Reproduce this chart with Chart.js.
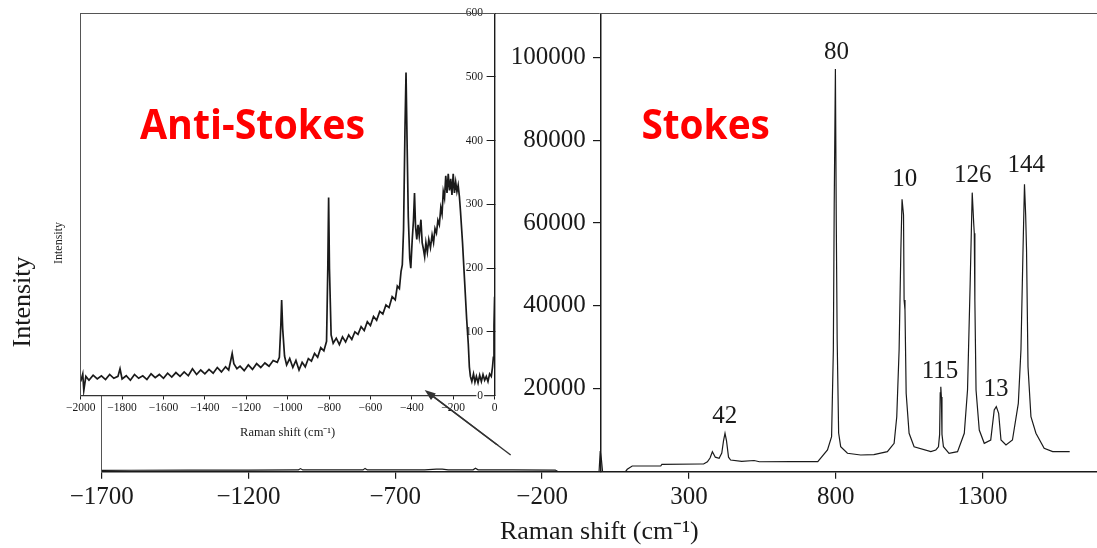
<!DOCTYPE html>
<html><head><meta charset="utf-8">
<script src="https://cdn.jsdelivr.net/npm/chart.js@4.4.1/dist/chart.umd.min.js"></script>
<style>
html,body{margin:0;padding:0;background:#fff;overflow:hidden;width:1097px;height:548px;}
#main{position:absolute;left:0;top:0;}
#inset{position:absolute;left:50px;top:0;}
</style></head><body>
<canvas id="main" width="1097" height="548"></canvas>
<canvas id="inset" width="451" height="445"></canvas>
<script>
// ---------------- data ----------------
// main spectrum (Raman shift cm-1 vs intensity)
const mainShift = [-1700,-1600,-1400,-1200,-1030,-1023,-1015,-810,-803,-795,
  -600,-560,-540,-520,-435,-427,-418,-300,-155,-145,
  -6,-2,2,6,84,90,107,204,208,340,
  350,363,372,380,390,403,412,418,423,428,
  435,442,480,522,540,650,739,772,786,792,
  795,799,802,805,810,817,840,885,930,976,
  999,1008,1016,1022,1026,1031,1033,1036,1040,1050,
  1067,1124,1141,1150,1154,1156,1158,1160,1162,1167,
  1186,1215,1238,1249,1258,1265,1270,1272,1274,1278,
  1289,1306,1328,1340,1347,1355,1363,1380,1402,1422,
  1431,1438,1443,1447,1450,1455,1465,1482,1510,1539,
  1597];
const mainIntensity = [300,350,380,400,420,750,420,420,800,420,
  430,600,600,450,450,850,450,420,400,0,
  0,5000,3000,0,0,580,1370,1370,1780,1860,
  1860,2400,3300,4830,3500,3230,4500,7500,9270,7500,
  3500,2820,2500,2700,2400,2450,2413,5240,8450,29440,
  65000,97170,60000,31850,9340,6030,4440,4030,4100,4830,
  6850,13270,29440,53540,65730,61940,41430,39020,18920,9270,
  6030,4830,5240,6000,9000,19000,20510,18000,9000,6030,
  4440,4830,9270,19700,45460,67330,60000,57530,41430,19700,
  10060,6850,7650,14890,15690,14090,7650,6440,7650,16500,
  29440,53500,69350,62000,53500,25340,13270,9270,5650,4830,
  4830];
// inset anti-Stokes spectrum
const insetShift = [-2000,-1990,-1985,-1975,-1960,-1940,-1920,-1900,-1880,-1860,
  -1840,-1820,-1810,-1800,-1780,-1760,-1740,-1720,-1700,-1680,
  -1660,-1640,-1620,-1600,-1580,-1560,-1540,-1520,-1500,-1480,
  -1460,-1440,-1420,-1400,-1380,-1360,-1340,-1320,-1300,-1285,
  -1275,-1268,-1260,-1245,-1230,-1210,-1190,-1170,-1150,-1130,
  -1110,-1090,-1070,-1050,-1040,-1033,-1029,-1024,-1015,-1005,
  -990,-975,-960,-945,-930,-915,-900,-885,-870,-855,
  -840,-825,-812,-806,-802,-798,-790,-780,-765,-750,
  -735,-720,-705,-690,-675,-660,-645,-630,-615,-600,
  -585,-570,-555,-540,-525,-510,-495,-480,-470,-460,
  -452,-446,-440,-433,-428,-423,-417,-410,-405,-398,
  -392,-387,-382,-376,-370,-364,-356,-350,-344,-338,
  -332,-325,-318,-310,-302,-295,-288,-281,-274,-267,
  -260,-254,-248,-242,-236,-230,-224,-218,-212,-206,
  -200,-194,-188,-182,-176,-170,-165,-155,-145,-135,
  -127,-122,-117,-110,-102,-95,-88,-80,-72,-64,
  -56,-48,-40,-32,-24,-16,-10,-6,-3,0];
const insetIntensity = [22,34,8,30,24,32,26,31,25,33,
  27,30,42,26,31,24,33,27,31,25,
  34,28,33,27,35,29,36,30,37,31,
  42,33,40,34,41,35,44,37,45,40,
  55,66,50,42,46,39,48,41,50,44,
  51,46,55,52,60,110,150,105,62,48,
  58,44,55,40,52,45,58,54,66,60,
  75,70,85,200,311,200,95,82,90,80,
  92,84,95,88,100,96,108,102,116,110,
  124,118,132,128,142,138,155,150,172,168,
  195,205,260,420,507,400,280,215,200,245,
  275,318,265,245,268,250,276,240,230,218,
  240,225,245,232,252,240,262,255,275,268,
  295,285,320,310,345,318,348,322,340,315,
  348,318,335,320,330,312,290,240,180,120,
  80,45,30,22,34,21,30,20,32,22,
  33,24,30,22,34,30,45,60,110,155];
// tick labels
const mainXTicks = [-1700,-1200,-700,-200,300,800,1300];
const mainYTicks = [20000,40000,60000,80000,100000];
const insetXTicks = [-2000,-1800,-1600,-1400,-1200,-1000,-800,-600,-400,-200,0];
const insetYTicks = [0,100,200,300,400,500,600];
// peak annotations
const peakLabels = ['42','80','10','115','126','13','144'];
const peakLabelShift = [422,803,1035,1155,1267,1346,1449];
const peakLabelIntensity = [13300,101200,70400,24300,71360,19900,73850];

// ---------------- style ----------------
const SERIF = "'Liberation Serif','Times New Roman',serif";
const INK = '#1a1a1a';
const INSET_LEFT = 50;
const fmt = v => v < 0 ? '\u2212' + Math.abs(v) : String(v);

function fittedText(ctx, text, cx, cy, size, targetW, color) {
  ctx.save();
  ctx.font = `bold ${size}px 'Open Sans', Lato, sans-serif`;
  const w = ctx.measureText(text).width;
  ctx.translate(cx, cy);
  ctx.scale(targetW / w, 1);
  ctx.fillStyle = color; ctx.textAlign = 'center'; ctx.textBaseline = 'middle';
  ctx.fillText(text, 0, 0);
  ctx.restore();
}
function drawArrow(ctx, x1, y1, x2, y2) {
  ctx.save(); ctx.strokeStyle = '#333'; ctx.fillStyle = '#333'; ctx.lineWidth = 1.4;
  const a = Math.atan2(y2 - y1, x2 - x1), L = 11, W = 4;
  const bx = x2 - L * Math.cos(a), by = y2 - L * Math.sin(a);
  ctx.beginPath(); ctx.moveTo(x1, y1); ctx.lineTo(bx, by); ctx.stroke();
  ctx.beginPath(); ctx.moveTo(x2, y2);
  ctx.lineTo(bx + W * Math.sin(a), by - W * Math.cos(a));
  ctx.lineTo(bx - W * Math.sin(a), by + W * Math.cos(a));
  ctx.closePath(); ctx.fill(); ctx.restore();
}
function rotText(ctx, text, x, y, font) {
  ctx.save(); ctx.translate(x, y); ctx.rotate(-Math.PI / 2);
  ctx.font = font; ctx.fillStyle = INK; ctx.textAlign = 'center'; ctx.textBaseline = 'middle';
  ctx.fillText(text, 0, 0); ctx.restore();
}
const noPad = s => { s.paddingTop = 0; s.paddingBottom = 0; };
// arrow in main data coordinates
const arrowFrom = {x: -307, y: 4030}, arrowTo = {x: -600, y: 19700};

const mainAnnot = {
  id: 'mainAnnot',
  beforeDraw(chart) {
    // move y tick labels left of the tick marks (axis positioned at x = 0)
    const s = chart.scales.y;
    s.getLabelItems(chart.chartArea).forEach(it => {
      if (!it._moved) { it.options.translation[0] -= 15; it._moved = true; }
    });
  },
  afterDraw(chart) {
    const {ctx, scales: {x, y}} = chart;
    ctx.save();
    ctx.font = `25px ${SERIF}`; ctx.fillStyle = INK; ctx.textAlign = 'center'; ctx.textBaseline = 'middle';
    peakLabels.forEach((t, i) => ctx.fillText(t, x.getPixelForValue(peakLabelShift[i]), y.getPixelForValue(peakLabelIntensity[i])));
    ctx.restore();
    fittedText(ctx, 'Stokes', x.getPixelForValue(357), y.getPixelForValue(83200), 42, 128.5, '#ff0000');
    rotText(ctx, 'Intensity', 23.5, 302, `26px ${SERIF}`);
    drawArrow(ctx, x.getPixelForValue(arrowFrom.x), y.getPixelForValue(arrowFrom.y), x.getPixelForValue(arrowTo.x), y.getPixelForValue(arrowTo.y));
  }
};

const mainChart = new Chart(document.getElementById('main'), {
  type: 'line',
  data: {datasets: [{data: mainShift.map((v, i) => ({x: v, y: mainIntensity[i]})), borderColor: INK, borderWidth: 1.2, pointRadius: 0, tension: 0}]},
  options: {
    responsive: false, animation: false, devicePixelRatio: 1,
    layout: {padding: 0},
    plugins: {legend: {display: false}, tooltip: {enabled: false}},
    scales: {
      x: {type: 'linear', position: 'bottom', min: -1700, max: 1690,
        afterBuildTicks: s => { s.ticks = mainXTicks.map(v => ({value: v})); },
        afterFit: s => { s.height = 76.3; },
        ticks: {font: {family: SERIF, size: 25}, color: INK, padding: 4, autoSkip: false, maxRotation: 0, callback: v => fmt(v)},
        grid: {display: true, drawOnChartArea: false, drawTicks: true, tickLength: 7, color: INK, lineWidth: 1.2},
        border: {display: true, color: INK, width: 1.5},
        title: {display: true, text: 'Raman shift (cm\u207B\u00B9)', font: {family: SERIF, size: 26}, color: INK, padding: {top: 0, bottom: 0}}
      },
      y: {type: 'linear', position: {x: 0}, min: 0, max: 110600,
        afterBuildTicks: s => { s.ticks = mainYTicks.map(v => ({value: v})); },
        afterFit: noPad,
        ticks: {font: {family: SERIF, size: 25}, color: INK, padding: 0, callback: v => String(v)},
        grid: {display: true, drawOnChartArea: false, drawTicks: true, tickLength: 7, color: INK, lineWidth: 1.2},
        border: {display: true, color: INK, width: 1.5}
      },
      xTop: {type: 'linear', axis: 'x', position: 'top', min: 0, max: 1,
        ticks: {display: false}, grid: {display: false},
        border: {display: true, dash: [2, 2], color: '#555', width: 1},
        afterFit: s => { s.height = 13.3; }
      },
      yLeft: {type: 'linear', axis: 'y', position: 'left', min: 0, max: 1,
        ticks: {display: false}, grid: {display: false},
        border: {display: true, dash: [2, 2], color: '#555', width: 1},
        afterFit: s => { s.width = 101.7; noPad(s); }
      }
    }
  },
  plugins: [mainAnnot]
});

const insetBg = {
  id: 'insetBg',
  beforeDraw(chart) {
    const {ctx, chartArea: a} = chart;
    ctx.save(); ctx.fillStyle = '#fff'; ctx.fillRect(a.left, a.top, a.right - a.left, a.bottom - a.top); ctx.restore();
  }
};
const insetAnnot = {
  id: 'insetAnnot',
  afterDraw(chart) {
    const {ctx, scales: {x, y}} = chart;
    fittedText(ctx, 'Anti-Stokes', x.getPixelForValue(-1170), y.getPixelForValue(421.7), 42, 225, '#ff0000');
    rotText(ctx, 'Intensity', 8.8, 243, `12px ${SERIF}`);
    const mx = mainChart.scales.x, my = mainChart.scales.y;
    drawArrow(ctx, mx.getPixelForValue(arrowFrom.x) - INSET_LEFT, my.getPixelForValue(arrowFrom.y), mx.getPixelForValue(arrowTo.x) - INSET_LEFT, my.getPixelForValue(arrowTo.y));
  }
};

const insetChart = new Chart(document.getElementById('inset'), {
  type: 'line',
  data: {datasets: [{data: insetShift.map((v, i) => ({x: v, y: insetIntensity[i]})), borderColor: INK, borderWidth: 1.7, pointRadius: 0, tension: 0}]},
  options: {
    responsive: false, animation: false, devicePixelRatio: 1,
    layout: {padding: 0},
    plugins: {legend: {display: false}, tooltip: {enabled: false}},
    scales: {
      x: {type: 'linear', position: 'bottom', min: -2000, max: 0,
        afterBuildTicks: s => { s.ticks = insetXTicks.map(v => ({value: v})); },
        afterFit: s => { s.height = 49.5; },
        ticks: {font: {family: SERIF, size: 11.5}, color: INK, padding: 1.5, autoSkip: false, maxRotation: 0, callback: v => fmt(v)},
        grid: {display: true, drawOnChartArea: false, drawTicks: true, tickLength: 4, color: INK, lineWidth: 1},
        border: {display: true, color: '#333', width: 1.2},
        title: {display: true, text: 'Raman shift (cm\u207B\u00B9)', font: {family: SERIF, size: 12.5}, color: INK, padding: {top: 0, bottom: 4.5}}
      },
      y: {type: 'linear', position: 'right', min: 0, max: 600,
        afterBuildTicks: s => { s.ticks = insetYTicks.map(v => ({value: v})); },
        afterFit: s => { s.width = 6.4; noPad(s); },
        ticks: {mirror: true, padding: -11.5, font: {family: SERIF, size: 11.5}, color: INK, callback: v => String(v),
          showLabelBackdrop: true, backdropColor: '#fff', backdropPadding: 1},
        grid: {display: true, drawOnChartArea: false, drawTicks: true, tickLength: -8, color: INK, lineWidth: 1},
        border: {display: true, color: INK, width: 1.4}
      },
      xTop: {type: 'linear', axis: 'x', position: 'top', min: 0, max: 1,
        ticks: {display: false}, grid: {display: false},
        border: {display: true, dash: [2, 2], color: '#555', width: 1},
        afterFit: s => { s.height = 13.3; }
      },
      yLeft: {type: 'linear', axis: 'y', position: 'left', min: 0, max: 1,
        ticks: {display: false}, grid: {display: false},
        border: {display: true, dash: [2, 2], color: '#555', width: 1},
        afterFit: s => { s.width = 30.7; noPad(s); }
      }
    }
  },
  plugins: [insetBg, insetAnnot]
});
</script>
</body></html>
